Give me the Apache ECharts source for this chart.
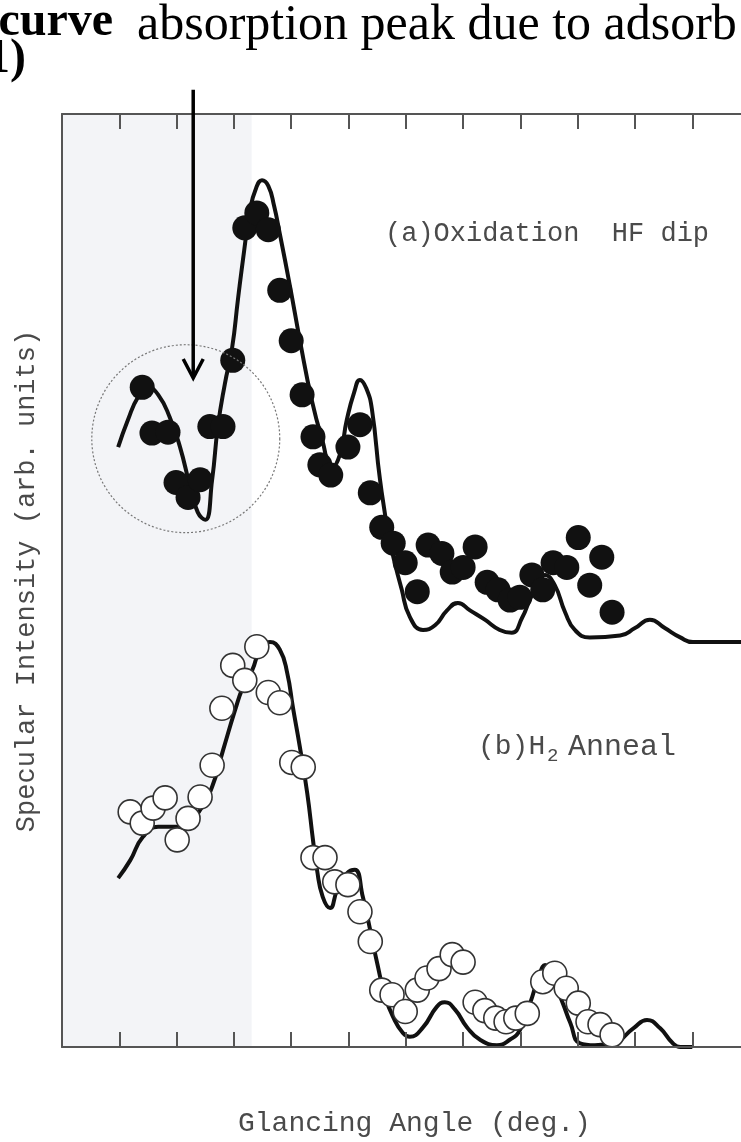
<!DOCTYPE html>
<html>
<head>
<meta charset="utf-8">
<script src="https://cdn.jsdelivr.net/npm/echarts@6/dist/echarts.min.js"></script>
<style>
  html, body { margin: 0; padding: 0; background: #fff; }
  #chart { width: 741px; height: 1142px; }
</style>
</head>
<body>
<div id="chart"></div>
<script>
// (a) Oxidation + HF dip: calculated reflectivity curve
const fitAngleA = [0.98,1.15,1.33,1.50,1.68,1.88,2.06,2.23,2.37,2.50,2.62,2.72,2.84,2.97,3.07,3.18,3.28,3.39,3.49,3.60,3.70,3.80,3.98,4.15,4.36,4.54,4.71,4.85,4.97,5.10,5.20,5.31,5.41,5.55,5.72,5.93,6.07,6.30,6.51,6.72,6.91,7.12,7.38,7.64,7.85,8.03,8.20,8.43,8.60,8.78,8.95,9.21,9.74,10.00,10.26,10.52,10.79,11.01,11.85];
const fitIntensityA = [6.43,6.72,6.97,7.07,6.99,6.75,6.43,6.02,5.73,5.65,6.08,6.65,7.10,7.50,8.01,8.54,8.97,9.21,9.29,9.23,9.02,8.72,8.15,7.58,6.93,6.51,6.21,6.35,6.72,7.02,7.15,7.06,6.83,6.08,5.43,4.90,4.61,4.47,4.52,4.68,4.76,4.68,4.58,4.47,4.44,4.60,4.84,5.06,4.95,4.66,4.47,4.39,4.41,4.49,4.58,4.49,4.39,4.34,4.34];

// (a) measured points
const obsAngleA = [1.40,1.57,1.85,1.99,2.20,2.41,2.58,2.81,2.98,3.19,3.40,3.60,3.80,4.00,4.19,4.38,4.50,4.69,4.99,5.20,5.38,5.58,5.78,5.99,6.20,6.39,6.63,6.81,7.00,7.21,7.42,7.61,7.82,7.99,8.20,8.39,8.57,8.81,9.01,9.21,9.42,9.60];
const obsIntensityA = [7.07,6.58,6.59,6.05,5.89,6.08,6.65,6.65,7.36,8.78,8.94,8.76,8.11,7.57,6.99,6.54,6.24,6.13,6.43,6.67,5.94,5.57,5.40,5.19,4.88,5.38,5.29,5.09,5.14,5.36,4.98,4.90,4.79,4.82,5.06,4.90,5.19,5.14,5.46,4.95,5.25,4.66];

// (b) H2 anneal: calculated reflectivity curve
const fitAngleB = [0.98,1.19,1.41,1.68,2.01,2.20,2.41,2.62,2.81,3.02,3.16,3.32,3.46,3.63,3.80,3.93,4.03,4.15,4.28,4.38,4.45,4.55,4.68,4.80,4.97,5.11,5.25,5.38,5.50,5.64,5.78,5.95,6.07,6.30,6.54,6.68,6.86,7.07,7.29,7.59,7.82,7.99,8.17,8.34,8.43,8.57,8.74,8.87,9.04,9.30,9.62,9.97,10.21,10.44,10.66,10.79,11.00];
const fitIntensityB = [1.81,2.00,2.25,2.36,2.36,2.40,2.54,2.79,3.18,3.61,3.86,4.04,4.26,4.34,4.26,4.01,3.64,3.22,2.72,2.22,1.90,1.61,1.49,1.68,1.86,1.90,1.61,1.25,0.90,0.54,0.32,0.15,0.11,0.21,0.43,0.48,0.40,0.21,0.08,0.02,0.08,0.18,0.47,0.79,0.88,0.72,0.47,0.26,0.04,0.02,0.04,0.20,0.29,0.20,0.04,0.00,0.00];

// (b) measured points
const obsAngleB = [1.19,1.40,1.59,1.80,2.01,2.20,2.41,2.62,2.79,2.98,3.19,3.40,3.60,3.80,4.01,4.21,4.38,4.59,4.76,4.99,5.20,5.38,5.58,5.76,5.99,6.20,6.37,6.58,6.81,7.00,7.21,7.38,7.57,7.75,7.92,8.12,8.39,8.60,8.80,9.01,9.18,9.39,9.60];
const obsIntensityB = [2.52,2.40,2.56,2.67,2.22,2.45,2.68,3.02,3.63,4.09,3.93,4.29,3.80,3.69,3.05,3.00,2.03,2.03,1.77,1.74,1.45,1.13,0.61,0.56,0.38,0.61,0.74,0.84,0.99,0.91,0.48,0.39,0.31,0.27,0.31,0.36,0.70,0.79,0.63,0.47,0.27,0.24,0.13];

// visible angle range, tick positions and shaded low-angle band
const angleMax = 11.85;
const angleTicks = [1, 2, 3, 4, 5, 6, 7, 8, 9, 10, 11];
const shadeEnd = 3.31;

// callout: dotted ring [angle, intensity, radius in angle units], arrow [angle, top, tip]
const calloutRing = [2.16, 6.52, 1.64];
const calloutArrow = [2.29, 10.26, 7.17];

const pairs = (xs, ys) => xs.map((x, i) => [x, ys[i]]);
const AXIS = '#555';
const MONO = '"Liberation Mono", "DejaVu Sans Mono", monospace';
const SERIF = '"Liberation Serif", "DejaVu Serif", serif';
const LABEL = '#4a4a4a';

const axisX = (pos) => ({
  type: 'value', min: 0, max: angleMax, interval: 1, position: pos, gridIndex: 0, z: 10,
  axisLine: { show: true, onZero: false, lineStyle: { color: AXIS, width: 2 } },
  axisTick: { show: true, inside: true, length: 15, customValues: angleTicks, lineStyle: { color: AXIS, width: 2 } },
  axisLabel: { show: false },
  splitLine: { show: false }
});

const chart = echarts.init(document.getElementById('chart'), null, { renderer: 'canvas' });

chart.setOption({
  animation: false,
  backgroundColor: '#fff',
  grid: { left: 62, top: 114, right: 0, bottom: 95 },
  xAxis: [axisX('bottom'), axisX('top')],
  yAxis: {
    type: 'value', min: 0, max: 10, z: 10,
    axisLine: { show: true, onZero: false, lineStyle: { color: AXIS, width: 2 } },
    axisTick: { show: false },
    axisLabel: { show: false },
    splitLine: { show: false }
  },
  series: [
    {
      type: 'line', z: 1, data: [[0, 0]], symbol: 'none',
      lineStyle: { width: 0, opacity: 0 }, silent: true,
      markArea: { silent: true, itemStyle: { color: '#f3f4f7' }, data: [[{ xAxis: 0 }, { xAxis: shadeEnd }]] }
    },
    {
      name: 'fitA', type: 'line', z: 2, data: pairs(fitAngleA, fitIntensityA),
      showSymbol: false, smooth: 0.5,
      lineStyle: { color: '#111', width: 4 }
    },
    {
      name: 'obsA', type: 'scatter', z: 3, data: pairs(obsAngleA, obsIntensityA),
      symbol: 'circle', symbolSize: 25,
      itemStyle: { color: '#111', opacity: 1 }
    },
    {
      name: 'fitB', type: 'line', z: 2, data: pairs(fitAngleB, fitIntensityB),
      showSymbol: false, smooth: 0.5,
      lineStyle: { color: '#111', width: 4 }
    },
    {
      name: 'obsB', type: 'scatter', z: 3, data: pairs(obsAngleB, obsIntensityB),
      symbol: 'circle', symbolSize: 24,
      itemStyle: { color: '#fff', borderColor: '#333', borderWidth: 1.6, opacity: 1 }
    }
  ]
});

// callout and text overlays, placed through the grid's coordinate system
const toPx = (x, y) => chart.convertToPixel({ gridIndex: 0 }, [x, y]);
const ringC = toPx(calloutRing[0], calloutRing[1]);
const ringR = toPx(calloutRing[0] + calloutRing[2], calloutRing[1])[0] - ringC[0];
const arrowTop = toPx(calloutArrow[0], calloutArrow[1]);
const arrowTip = toPx(calloutArrow[0], calloutArrow[2]);

chart.setOption({
  graphic: [
    { type: 'circle', z: 50, silent: true,
      shape: { cx: ringC[0], cy: ringC[1], r: ringR },
      style: { fill: null, stroke: '#777', lineWidth: 1.2, lineDash: [2, 2] } },
    { type: 'line', z: 51, silent: true,
      shape: { x1: arrowTop[0], y1: arrowTop[1], x2: arrowTip[0], y2: arrowTip[1] - 1 },
      style: { stroke: '#000', lineWidth: 3.5 } },
    { type: 'polyline', z: 51, silent: true,
      shape: { points: [[arrowTip[0] - 10, arrowTip[1] - 19], [arrowTip[0], arrowTip[1]], [arrowTip[0] + 10, arrowTip[1] - 19]] },
      style: { stroke: '#000', lineWidth: 3.5, fill: null } },

    { type: 'text', z: 60, x: 113, y: 23,
      style: { text: 'curve', font: 'bold 48px ' + SERIF, fill: '#000', align: 'right', verticalAlign: 'middle' } },
    { type: 'text', z: 60, x: 26, y: 60,
      style: { text: '1)', font: 'bold 48px ' + SERIF, fill: '#000', align: 'right', verticalAlign: 'middle' } },
    { type: 'text', z: 60, x: 137, y: 26,
      style: { text: 'absorption peak due to adsorb', font: '50px ' + SERIF, fill: '#000', align: 'left', verticalAlign: 'middle' } },

    { type: 'text', z: 60, x: 385, y: 234,
      style: { text: '(a)Oxidation  HF dip', font: '27px ' + MONO, fill: LABEL, align: 'left', verticalAlign: 'middle' } },
    { type: 'text', z: 60, x: 478, y: 747,
      style: { text: '(b)H', font: '28px ' + MONO, fill: LABEL, align: 'left', verticalAlign: 'middle' } },
    { type: 'text', z: 60, x: 547, y: 756,
      style: { text: '2', font: '19px ' + MONO, fill: LABEL, align: 'left', verticalAlign: 'middle' } },
    { type: 'text', z: 60, x: 568, y: 747,
      style: { text: 'Anneal', font: '30px ' + MONO, fill: LABEL, align: 'left', verticalAlign: 'middle' } },

    { type: 'text', z: 60, x: 27, y: 581, rotation: Math.PI / 2,
      style: { text: 'Specular Intensity (arb. units)', font: '27px ' + MONO, fill: LABEL, align: 'center', verticalAlign: 'middle' } },
    { type: 'text', z: 60, x: 238, y: 1124,
      style: { text: 'Glancing Angle (deg.)', font: '28px ' + MONO, fill: LABEL, align: 'left', verticalAlign: 'middle' } }
  ]
});
</script>
</body>
</html>
